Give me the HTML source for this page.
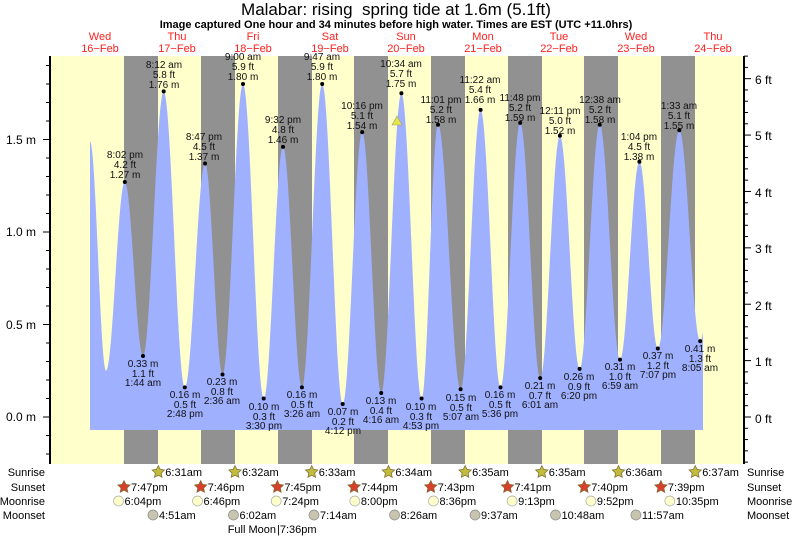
<!DOCTYPE html>
<html><head><meta charset="utf-8"><style>
html,body{margin:0;padding:0;background:#fff;}
svg{display:block;font-family:"Liberation Sans",sans-serif;}
</style></head><body>
<svg id="s" width="793" height="538" viewBox="0 0 793 538" xmlns="http://www.w3.org/2000/svg">
<rect x="50" y="56" width="694" height="408" fill="#ffffcc"/>
<g fill="#919191">
<rect x="124" y="56" width="34" height="408"/>
<rect x="201" y="56" width="34" height="408"/>
<rect x="278" y="56" width="34" height="408"/>
<rect x="354" y="56" width="34" height="408"/>
<rect x="431" y="56" width="34" height="408"/>
<rect x="508" y="56" width="34" height="408"/>
<rect x="584" y="56" width="34" height="408"/>
<rect x="661" y="56" width="34" height="408"/>
</g>
<path id="tide" fill="#9fb0ff" d=""/>
<polygon points="397,116 392,125 402,125" fill="#e6e640" stroke="#999" stroke-width="0.6"/>
<g id="ticks" stroke="#000" stroke-width="1"></g>
<line x1="50" y1="56" x2="50" y2="464" stroke="#000" stroke-width="2"/>
<line x1="744" y1="56" x2="744" y2="464" stroke="#000" stroke-width="2"/>

<text x="396" y="15" font-size="17" text-anchor="middle">Malabar: rising &#160;spring tide at 1.6m (5.1ft)</text>
<text x="396" y="28" font-size="11" font-weight="bold" text-anchor="middle">Image captured One hour and 34 minutes before high water. Times are EST (UTC +11.0hrs)</text>
<g font-size="11" fill="#ff2020" text-anchor="middle">
<text x="100" y="40">Wed</text><text x="100" y="52">16−Feb</text>
<text x="177" y="40">Thu</text><text x="177" y="52">17−Feb</text>
<text x="253" y="40">Fri</text><text x="253" y="52">18−Feb</text>
<text x="330" y="40">Sat</text><text x="330" y="52">19−Feb</text>
<text x="406" y="40">Sun</text><text x="406" y="52">20−Feb</text>
<text x="483" y="40">Mon</text><text x="483" y="52">21−Feb</text>
<text x="559" y="40">Tue</text><text x="559" y="52">22−Feb</text>
<text x="636" y="40">Wed</text><text x="636" y="52">23−Feb</text>
<text x="713" y="40">Thu</text><text x="713" y="52">24−Feb</text>
</g>
<g font-size="12" text-anchor="end">
<text x="36" y="421">0.0 m</text><text x="36" y="329">0.5 m</text>
<text x="36" y="236">1.0 m</text><text x="36" y="144">1.5 m</text>
</g>
<g font-size="12">
<text x="755" y="423">0 ft</text><text x="755" y="366">1 ft</text><text x="755" y="310">2 ft</text>
<text x="755" y="253">3 ft</text><text x="755" y="197">4 ft</text><text x="755" y="140">5 ft</text>
<text x="755" y="84">6 ft</text>
</g>
<g font-size="10" fill="#111" text-anchor="middle" transform="translate(0,-3)">
<text x="125" y="161">8:02 pm</text><text x="125" y="171">4.2 ft</text><text x="125" y="181">1.27 m</text>
<text x="164" y="71">8:12 am</text><text x="164" y="81">5.8 ft</text><text x="164" y="91">1.76 m</text>
<text x="204" y="143">8:47 pm</text><text x="204" y="153">4.5 ft</text><text x="204" y="163">1.37 m</text>
<text x="243" y="63">9:00 am</text><text x="243" y="73">5.9 ft</text><text x="243" y="83">1.80 m</text>
<text x="283" y="126">9:32 pm</text><text x="283" y="136">4.8 ft</text><text x="283" y="146">1.46 m</text>
<text x="322" y="63">9:47 am</text><text x="322" y="73">5.9 ft</text><text x="322" y="83">1.80 m</text>
<text x="362" y="112">10:16 pm</text><text x="362" y="122">5.1 ft</text><text x="362" y="132">1.54 m</text>
<text x="401" y="70">10:34 am</text><text x="401" y="80">5.7 ft</text><text x="401" y="90">1.75 m</text>
<text x="441" y="106">11:01 pm</text><text x="441" y="116">5.2 ft</text><text x="441" y="126">1.58 m</text>
<text x="480" y="86">11:22 am</text><text x="480" y="96">5.4 ft</text><text x="480" y="106">1.66 m</text>
<text x="520" y="104">11:48 pm</text><text x="520" y="114">5.2 ft</text><text x="520" y="124">1.59 m</text>
<text x="560" y="117">12:11 pm</text><text x="560" y="127">5.0 ft</text><text x="560" y="137">1.52 m</text>
<text x="600" y="106">12:38 am</text><text x="600" y="116">5.2 ft</text><text x="600" y="126">1.58 m</text>
<text x="639" y="143">1:04 pm</text><text x="639" y="153">4.5 ft</text><text x="639" y="163">1.38 m</text>
<text x="679" y="112">1:33 am</text><text x="679" y="122">5.1 ft</text><text x="679" y="132">1.55 m</text>
</g>
<g font-size="10" fill="#111" text-anchor="middle">
<text x="143" y="367">0.33 m</text><text x="143" y="377">1.1 ft</text><text x="143" y="386">1:44 am</text>
<text x="185" y="398">0.16 m</text><text x="185" y="408">0.5 ft</text><text x="185" y="417">2:48 pm</text>
<text x="222" y="385">0.23 m</text><text x="222" y="395">0.8 ft</text><text x="222" y="404">2:36 am</text>
<text x="264" y="410">0.10 m</text><text x="264" y="420">0.3 ft</text><text x="264" y="429">3:30 pm</text>
<text x="302" y="398">0.16 m</text><text x="302" y="408">0.5 ft</text><text x="302" y="417">3:26 am</text>
<text x="343" y="415">0.07 m</text><text x="343" y="425">0.2 ft</text><text x="343" y="434">4:12 pm</text>
<text x="381" y="404">0.13 m</text><text x="381" y="414">0.4 ft</text><text x="381" y="423">4:16 am</text>
<text x="421" y="410">0.10 m</text><text x="421" y="420">0.3 ft</text><text x="421" y="429">4:53 pm</text>
<text x="461" y="401">0.15 m</text><text x="461" y="411">0.5 ft</text><text x="461" y="420">5:07 am</text>
<text x="500" y="398">0.16 m</text><text x="500" y="408">0.5 ft</text><text x="500" y="417">5:36 pm</text>
<text x="540" y="389">0.21 m</text><text x="540" y="399">0.7 ft</text><text x="540" y="408">6:01 am</text>
<text x="579" y="380">0.26 m</text><text x="579" y="390">0.9 ft</text><text x="579" y="399">6:20 pm</text>
<text x="620" y="370">0.31 m</text><text x="620" y="380">1.0 ft</text><text x="620" y="389">6:59 am</text>
<text x="658" y="359">0.37 m</text><text x="658" y="369">1.2 ft</text><text x="658" y="378">7:07 pm</text>
<text x="700" y="352">0.41 m</text><text x="700" y="362">1.3 ft</text><text x="700" y="371">8:05 am</text>
</g>
<g id="dots" fill="#000"></g>

<g font-size="11" text-anchor="end">
<text x="45" y="476">Sunrise</text><text x="45" y="491">Sunset</text>
<text x="45" y="505">Moonrise</text><text x="45" y="519">Moonset</text>
</g>
<g font-size="11">
<text x="747" y="476">Sunrise</text><text x="747" y="491">Sunset</text>
<text x="747" y="505">Moonrise</text><text x="747" y="519">Moonset</text>
</g>
<g id="astro" font-size="11"></g>
<text x="276" y="533" font-size="11" text-anchor="end">Full Moon </text>
<text x="277" y="533" font-size="11">|7:36pm</text>
</svg>
<script>
(function(){
var NS="http://www.w3.org/2000/svg";
function el(p,t,a,txt){var e=document.createElementNS(NS,t);for(var k in a)e.setAttribute(k,a[k]);if(txt)e.textContent=txt;p.appendChild(e);return e;}
function Y(h){return 417-185*h;}
var ex=[[90,1.49],[106,0.25],[124.8,1.27],[143,0.33],[163.7,1.76],[184.8,0.16],[205.1,1.37],[222.5,0.23],[243,1.80],[263.7,0.10],[283,1.46],[301.9,0.16],[322.2,1.80],[342.7,0.07],[362.2,1.54],[381.2,0.13],[401.4,1.75],[421.6,0.10],[438,1.58],[460.6,0.15],[480.6,1.66],[500.5,0.16],[520.2,1.59],[540.2,0.21],[559.9,1.52],[579.6,0.26],[599.7,1.58],[620,0.31],[639.4,1.38],[657.8,0.37],[679.3,1.55],[700.2,0.41],[720,1.5]];
var d="M90,430 L90,"+Y(1.49).toFixed(1);
for(var i=0;i<ex.length-1;i++){var a=ex[i],b=ex[i+1];for(var x=Math.ceil(a[0]*2)/2;x<=b[0];x+=0.5){if(x>703)break;var f=(x-a[0])/(b[0]-a[0]);var h=a[1]+(b[1]-a[1])*(1-Math.cos(Math.PI*f))/2;d+=" L"+x+","+Y(h).toFixed(1);}}
d+=" L703,430 Z";document.getElementById("tide").setAttribute("d",d);
var dots=document.getElementById("dots");
for(var i=2;i<ex.length-1;i++)el(dots,"circle",{cx:ex[i][0],cy:Y(ex[i][1]),r:2});
var tk=document.getElementById("ticks");
for(var v=-0.2;v<=1.95;v+=0.1){var y=Y(v);var maj=Math.abs(v*2-Math.round(v*2))<0.01;el(tk,"line",{x1:maj?43:46,x2:50,y1:y,y2:y});}
for(var f=-1.4;f<=6.5;f+=0.2){var y=417-185*0.3048*f;if(y<56||y>464)continue;var maj=Math.abs(f-Math.round(f))<0.01;el(tk,"line",{x1:744,x2:maj?751:748,y1:y,y2:y});}
var as=document.getElementById("astro");
function star(x,y,fill){var p="";for(var k=0;k<10;k++){var r=k%2?3.2:6.5;var ang=-Math.PI/2+k*Math.PI/5;p+=(x+r*Math.cos(ang)).toFixed(1)+","+(y+r*Math.sin(ang)).toFixed(1)+" ";}el(as,"polygon",{points:p,fill:fill,stroke:"#7a6a30","stroke-width":0.7});}
var mid0=137.5,day=76.7,hr=3.196;
var sr=["6:31am","6:32am","6:33am","6:34am","6:35am","6:35am","6:36am","6:37am"];
sr.forEach(function(t,i){var x=mid0+day*i+20.8;star(x,472,"#c2bc3c");el(as,"text",{x:x+7,y:476},t);});
var ss=["7:47pm","7:46pm","7:45pm","7:44pm","7:43pm","7:41pm","7:40pm","7:39pm"];
ss.forEach(function(t,i){var x=mid0-day+day*i+63.2;star(x,487,"#d8402c");el(as,"text",{x:x+7,y:491},t);});
var mr=[[18.07,"6:04pm"],[18.77,"6:46pm"],[19.4,"7:24pm"],[20,"8:00pm"],[20.6,"8:36pm"],[21.22,"9:13pm"],[21.87,"9:52pm"],[22.58,"10:35pm"]];
mr.forEach(function(m,i){var x=mid0-day+day*i+m[0]*hr;el(as,"circle",{cx:x,cy:501,r:5,fill:"#ffffcc",stroke:"#aaa","stroke-width":0.7});el(as,"text",{x:x+6,y:505},m[1]);});
var ms=[[4.85,"4:51am"],[6.03,"6:02am"],[7.23,"7:14am"],[8.43,"8:26am"],[9.62,"9:37am"],[10.8,"10:48am"],[11.95,"11:57am"]];
ms.forEach(function(m,i){var x=mid0+day*i+m[0]*hr;el(as,"circle",{cx:x,cy:515,r:5,fill:"#c8c4b0",stroke:"#888","stroke-width":0.7});el(as,"text",{x:x+6,y:519},m[1]);});
})();
</script>
</body></html>
